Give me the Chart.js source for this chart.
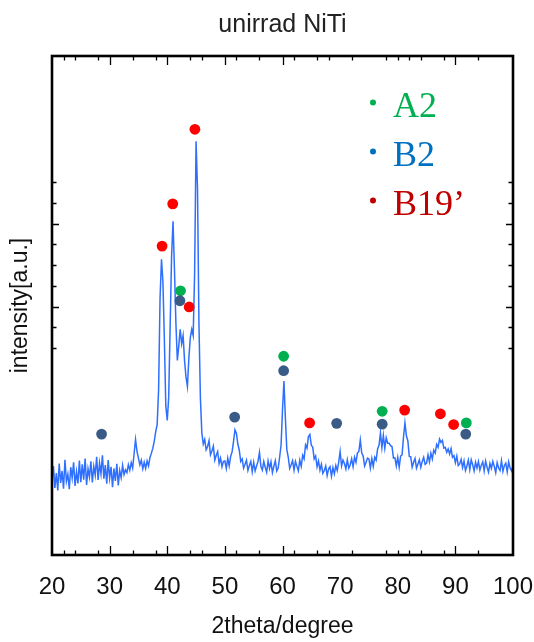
<!DOCTYPE html>
<html>
<head>
<meta charset="utf-8">
<script src="https://cdn.jsdelivr.net/npm/chart.js@4"></script>
<style>
  html, body { margin: 0; padding: 0; background: #ffffff; }
  #c { display: block; }
</style>
</head>
<body>
<canvas id="c" width="534" height="642"></canvas>
<script>
// ---------- DATA ----------
const chartTitle = 'unirrad NiTi';
const xTitle = '2theta/degree';
const yTitle = 'intensity[a.u.]';

// 2theta from 20 to 100, step 0.25
const xStart = 20, xStep = 0.25;
const intensity = [
  // 20.00 - 24.75
  18.0, 21.5, 16.2, 19.8, 15.6, 22.1, 17.4, 20.3, 16.0, 23.0, 17.8, 19.5, 15.9, 21.2, 18.6, 22.4, 16.7, 20.1, 17.3, 22.8,
  // 25.00 - 29.75
  17.6, 21.9, 18.2, 23.3, 16.9, 20.8, 18.8, 22.6, 17.5, 21.4, 19.3, 23.7, 18.1, 22.2, 19.6, 24.1, 18.4, 21.7, 17.2, 22.9,
  // 30.00 - 34.75
  18.6, 21.3, 16.4, 20.9, 17.9, 22.0, 16.8, 20.4, 18.7, 21.6, 19.4, 20.6, 19.9, 21.8, 20.5, 22.3, 21.0, 24.5, 27.9, 25.0,
  // 35.00 - 39.75
  23.4, 21.8, 22.9, 20.8, 22.4, 20.9, 22.7, 21.5, 23.5, 24.6, 25.8, 27.5, 29.8, 31.5, 40.0, 62.0, 71.4, 66.0, 52.0, 36.0,
  // 40.00 - 44.75
  32.5, 38.0, 55.0, 72.0, 80.6, 69.0, 56.0, 47.0, 50.5, 54.5, 51.0, 53.0, 47.0, 43.0, 40.7, 47.5, 52.5, 54.5, 53.0, 68.0,
  // 45.00 - 49.75
  99.9, 88.5, 56.0, 38.0, 29.5, 26.8, 27.9, 25.4, 26.2, 27.6, 24.2, 25.1, 26.3, 22.9, 24.1, 25.0, 22.1, 23.4, 21.3, 22.6,
  // 50.00 - 54.75
  22.7, 20.9, 23.4, 21.5, 23.8, 24.9, 27.4, 30.2, 29.4, 26.8, 25.3, 22.6, 23.2, 21.0, 21.9, 22.9, 20.4, 21.6, 22.6, 20.1,
  // 55.00 - 59.75
  22.4, 20.3, 21.5, 22.6, 24.8, 21.4, 20.5, 22.6, 21.2, 20.0, 22.7, 20.9, 22.5, 19.9, 21.4, 22.8, 20.3, 21.0, 23.6, 26.5,
  // 60.00 - 64.75
  35.0, 42.0, 33.0, 25.5, 23.6, 20.9, 21.8, 22.8, 20.5, 22.6, 21.4, 20.3, 22.9, 21.4, 24.1, 23.2, 26.6, 25.8, 28.6, 29.1,
  // 65.00 - 69.75
  26.5, 26.0, 23.2, 23.9, 21.3, 22.7, 20.5, 21.9, 19.7, 20.4, 21.5, 19.2, 20.8, 21.3, 19.0, 21.1, 19.6, 21.6, 20.4, 22.4,
  // 70.00 - 74.75
  25.0, 21.5, 22.9, 22.1, 20.8, 23.0, 21.0, 21.8, 23.2, 21.3, 23.6, 22.4, 24.6, 25.0, 27.8, 24.6, 23.9, 21.5, 22.4, 23.4,
  // 75.00 - 79.75
  23.2, 21.0, 23.3, 21.4, 23.6, 22.9, 25.6, 26.5, 29.5, 25.9, 28.9, 25.8, 28.3, 27.0, 27.0, 26.4, 26.2, 23.4, 23.5, 21.5,
  // 80.00 - 84.75
  23.6, 21.2, 23.9, 24.2, 28.5, 31.9, 28.8, 27.6, 23.8, 23.7, 21.2, 22.4, 23.3, 21.0, 22.0, 23.0, 21.2, 22.6, 23.6, 21.9,
  // 85.00 - 89.75
  22.2, 24.2, 22.5, 24.6, 23.2, 25.3, 24.6, 26.7, 26.0, 28.0, 27.2, 27.7, 25.8, 26.0, 24.8, 25.6, 24.4, 25.7, 23.6, 24.0,
  // 90.00 - 94.75
  22.3, 23.9, 21.6, 22.0, 23.1, 21.1, 22.7, 20.4, 21.5, 22.9, 20.6, 23.0, 21.8, 20.3, 22.4, 21.0, 22.6, 20.5, 21.7, 22.5,
  // 95.00 - 99.75
  20.3, 22.7, 21.2, 20.0, 22.1, 20.9, 22.6, 21.4, 19.9, 22.3, 21.0, 20.4, 22.8, 20.2, 21.6, 22.2, 20.1, 22.5, 21.0, 20.3,
  // 100.00
  21.6
];

// phase markers (2theta, height)
const a2X = [42.3, 60.2, 77.3, 91.9];
const a2Y = [63.8, 48.0, 34.7, 31.9];
const b2X = [28.6, 42.2, 51.7, 60.2, 69.4, 77.3, 91.8];
const b2Y = [29.2, 61.4, 33.3, 44.5, 31.8, 31.6, 29.2];
const b19X = [39.1, 40.95, 44.8, 43.8, 64.7, 81.2, 87.4, 89.7];
const b19Y = [74.6, 84.8, 102.8, 59.9, 31.9, 35.0, 34.1, 31.5];

const legendLabels = ['A2', 'B2', 'B19\u2019'];

// axis ticks
const xLabelTicks = [20, 30, 40, 50, 60, 70, 80, 90, 100];
const xMajorMarks = [30, 40, 50, 60, 90];
const xMinorMarks = [22, 24, 28, 34, 38, 44, 46, 52, 56, 62, 66, 68, 72, 78, 80, 82, 84, 88, 94];
const yMajorMarks = [60, 80];
const yMinorMarks = [50, 55, 65, 70, 75, 85, 90];

// ---------- BUILD ----------
const linePoints = intensity.map((v, i) => ({ x: xStart + i * xStep, y: v }));
const toPts = (xs, ys) => xs.map((x, i) => ({ x: x, y: ys[i] }));

const COL_LINE = '#2f6fff';
const COL_RED = '#ff0000';
const COL_BLUE = '#3b5b87';
const COL_GREEN = '#00b050';
const legendColors = ['#00b050', '#0070c0', '#c00000'];

const framePlugin = {
  id: 'frame',
  afterDraw(chart) {
    const ctx = chart.ctx;
    const a = chart.chartArea;
    const xs = chart.scales.x, ys = chart.scales.y;
    ctx.save();
    ctx.strokeStyle = '#000';
    ctx.lineWidth = 1.3;
    ctx.beginPath();
    const tickX = (v, len) => {
      const p = Math.round(xs.getPixelForValue(v)) + 0.5;
      ctx.moveTo(p, a.bottom); ctx.lineTo(p, a.bottom - len);
      ctx.moveTo(p, a.top); ctx.lineTo(p, a.top + len);
    };
    const tickY = (v, len) => {
      const p = Math.round(ys.getPixelForValue(v)) + 0.5;
      ctx.moveTo(a.left, p); ctx.lineTo(a.left + len, p);
      ctx.moveTo(a.right, p); ctx.lineTo(a.right - len, p);
    };
    xMajorMarks.forEach(v => tickX(v, 9));
    xMinorMarks.forEach(v => tickX(v, 4.5));
    yMajorMarks.forEach(v => tickY(v, 7));
    yMinorMarks.forEach(v => tickY(v, 4.5));
    ctx.stroke();
    ctx.lineWidth = 2.6;
    ctx.strokeRect(a.left, a.top, a.right - a.left, a.bottom - a.top);

    // legend
    ctx.font = '36px "Liberation Serif", "DejaVu Serif", serif';
    ctx.textBaseline = 'alphabetic';
    ctx.textAlign = 'left';
    legendLabels.forEach((lab, i) => {
      const by = a.top + 61 + i * 49;
      ctx.fillStyle = legendColors[i];
      ctx.beginPath();
      ctx.arc(a.left + 321, by - 14.5, 3, 0, Math.PI * 2);
      ctx.fill();
      ctx.fillText(lab, a.left + 341, by);
    });
    ctx.restore();
  }
};

new Chart(document.getElementById('c'), {
  type: 'scatter',
  data: {
    datasets: [
      { label: 'B19\u2019', data: toPts(b19X, b19Y), backgroundColor: COL_RED, borderWidth: 0, pointRadius: 5.4, order: 0 },
      { label: 'B2', data: toPts(b2X, b2Y), backgroundColor: COL_BLUE, borderWidth: 0, pointRadius: 5.4, order: 1 },
      { label: 'A2', data: toPts(a2X, a2Y), backgroundColor: COL_GREEN, borderWidth: 0, pointRadius: 5.4, order: 2 },
      { label: 'XRD', data: linePoints, showLine: true, borderColor: COL_LINE, borderWidth: 1.5, pointRadius: 0, tension: 0, order: 3 }
    ]
  },
  options: {
    responsive: false,
    animation: false,
    layout: { padding: { left: 0, right: 21, top: 0, bottom: 0 } },
    plugins: {
      legend: { display: false },
      tooltip: { enabled: false },
      title: {
        display: true,
        text: chartTitle,
        fullSize: false,
        color: '#222',
        font: { family: '"Liberation Sans", Arial, sans-serif', size: 25, weight: 'normal', lineHeight: 1.2 },
        padding: { top: 10, bottom: 16 }
      }
    },
    scales: {
      x: {
        type: 'linear',
        min: 20, max: 100,
        afterBuildTicks: (s) => { s.ticks = xLabelTicks.map(v => ({ value: v })); },
        afterFit: (s) => { s.height = 87; s.paddingLeft = 0; s.paddingRight = 0; },
        grid: { display: false },
        border: { display: false },
        ticks: {
          autoSkip: false, maxRotation: 0, padding: 10,
          color: '#111',
          font: { family: '"Liberation Sans", Arial, sans-serif', size: 24 }
        },
        title: {
          display: true, text: xTitle, color: '#111',
          font: { family: '"Liberation Sans", Arial, sans-serif', size: 23, lineHeight: 1.2 },
          padding: { top: 0, bottom: 2 }
        }
      },
      y: {
        type: 'linear',
        min: 0, max: 120.5,
        afterFit: (s) => { s.width = 52; s.paddingTop = 0; s.paddingBottom = 0; },
        grid: { display: false },
        border: { display: false },
        ticks: { display: false },
        title: {
          display: true, text: yTitle, color: '#111',
          font: { family: '"Liberation Sans", Arial, sans-serif', size: 23, lineHeight: 1.2 },
          padding: { top: 7, bottom: 0 }
        }
      }
    }
  },
  plugins: [framePlugin]
});
</script>
</body>
</html>
